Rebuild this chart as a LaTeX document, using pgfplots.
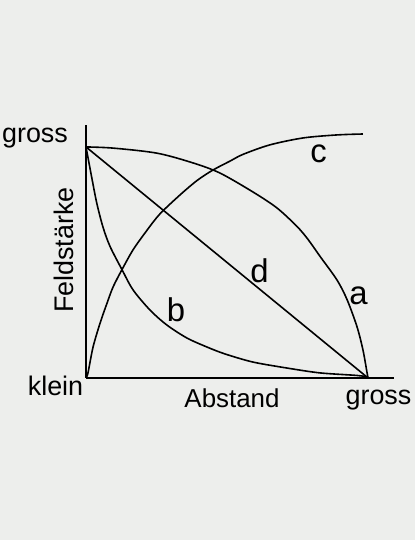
\documentclass[border=0pt]{standalone}
\usepackage{pgfplots}
\pgfplotsset{compat=1.18}
\usepackage{fontspec}
\setmainfont{Liberation Sans}
\definecolor{bg}{RGB}{237,238,236}
\begin{document}
\begin{tikzpicture}[x=1bp,y=1bp]
\fill[bg] (-86,-162) rectangle (329,378);
\begin{axis}[
  at={(0,0)}, anchor=south west,
  scale only axis, width=308bp, height=253bp,
  xmin=0, xmax=1.092, ymin=0, ymax=1.095,
  axis lines=left, axis line style={-, line width=2bp, black},
  xtick=\empty, ytick=\empty,
  clip=false,
]
% a
\addplot[black, line width=1.6bp, smooth, tension=0.5] coordinates {
(0,1) (0.096,0.995) (0.252,0.973) (0.379,0.931) (0.475,0.887) (0.592,0.805)
(0.677,0.736) (0.748,0.656) (0.787,0.600) (0.830,0.526) (0.890,0.424)
(0.926,0.338) (0.961,0.221) (0.982,0.121) (0.996,0.026) (1,0)};
% b
\addplot[black, line width=1.6bp, smooth, tension=0.5] coordinates {
(0,1) (0.02,0.870) (0.038,0.758) (0.060,0.654) (0.085,0.570) (0.128,0.468)
(0.167,0.381) (0.227,0.294) (0.287,0.229) (0.358,0.173) (0.429,0.134)
(0.493,0.104) (0.592,0.069) (0.713,0.043) (0.830,0.022) (0.961,0.011) (1,0.004)};
% c
\addplot[black, line width=1.6bp, smooth, tension=0.5] coordinates {
(0,0) (0.007,0.022) (0.025,0.134) (0.050,0.238) (0.074,0.322) (0.096,0.394)
(0.128,0.470) (0.167,0.555) (0.216,0.639) (0.262,0.710) (0.333,0.792)
(0.394,0.855) (0.450,0.900) (0.511,0.939) (0.557,0.968) (0.652,1.009)
(0.770,1.039) (0.890,1.052) (0.982,1.056)};
% d
\addplot[black, line width=1.6bp] coordinates {(0,1) (1,0)};
\end{axis}
\begin{scope}[every node/.style={inner sep=0pt, text=black}]
\node[anchor=base, font=\fontsize{27}{32}\selectfont] at (-51,235) {gross};
\node[anchor=base, font=\fontsize{27}{32}\selectfont] at (-30.5,-18) {klein};
\node[anchor=base, font=\fontsize{27}{32}\selectfont] at (292.5,-27) {gross};
\node[anchor=base, font=\fontsize{26}{32}\selectfont] at (146,-30) {Abstand};
\node[anchor=base, rotate=90, font=\fontsize{27}{32}\selectfont] at (-13,128) {Feldstärke};
\node[anchor=base, font=\fontsize{33}{38}\selectfont] at (272.5,73) {a};
\node[anchor=base, font=\fontsize{33}{38}\selectfont] at (90,56) {b};
\node[anchor=base, font=\fontsize{33}{38}\selectfont] at (232.5,215) {c};
\node[anchor=base, font=\fontsize{33}{38}\selectfont] at (173.5,95) {d};
\end{scope}
\end{tikzpicture}
\end{document}
